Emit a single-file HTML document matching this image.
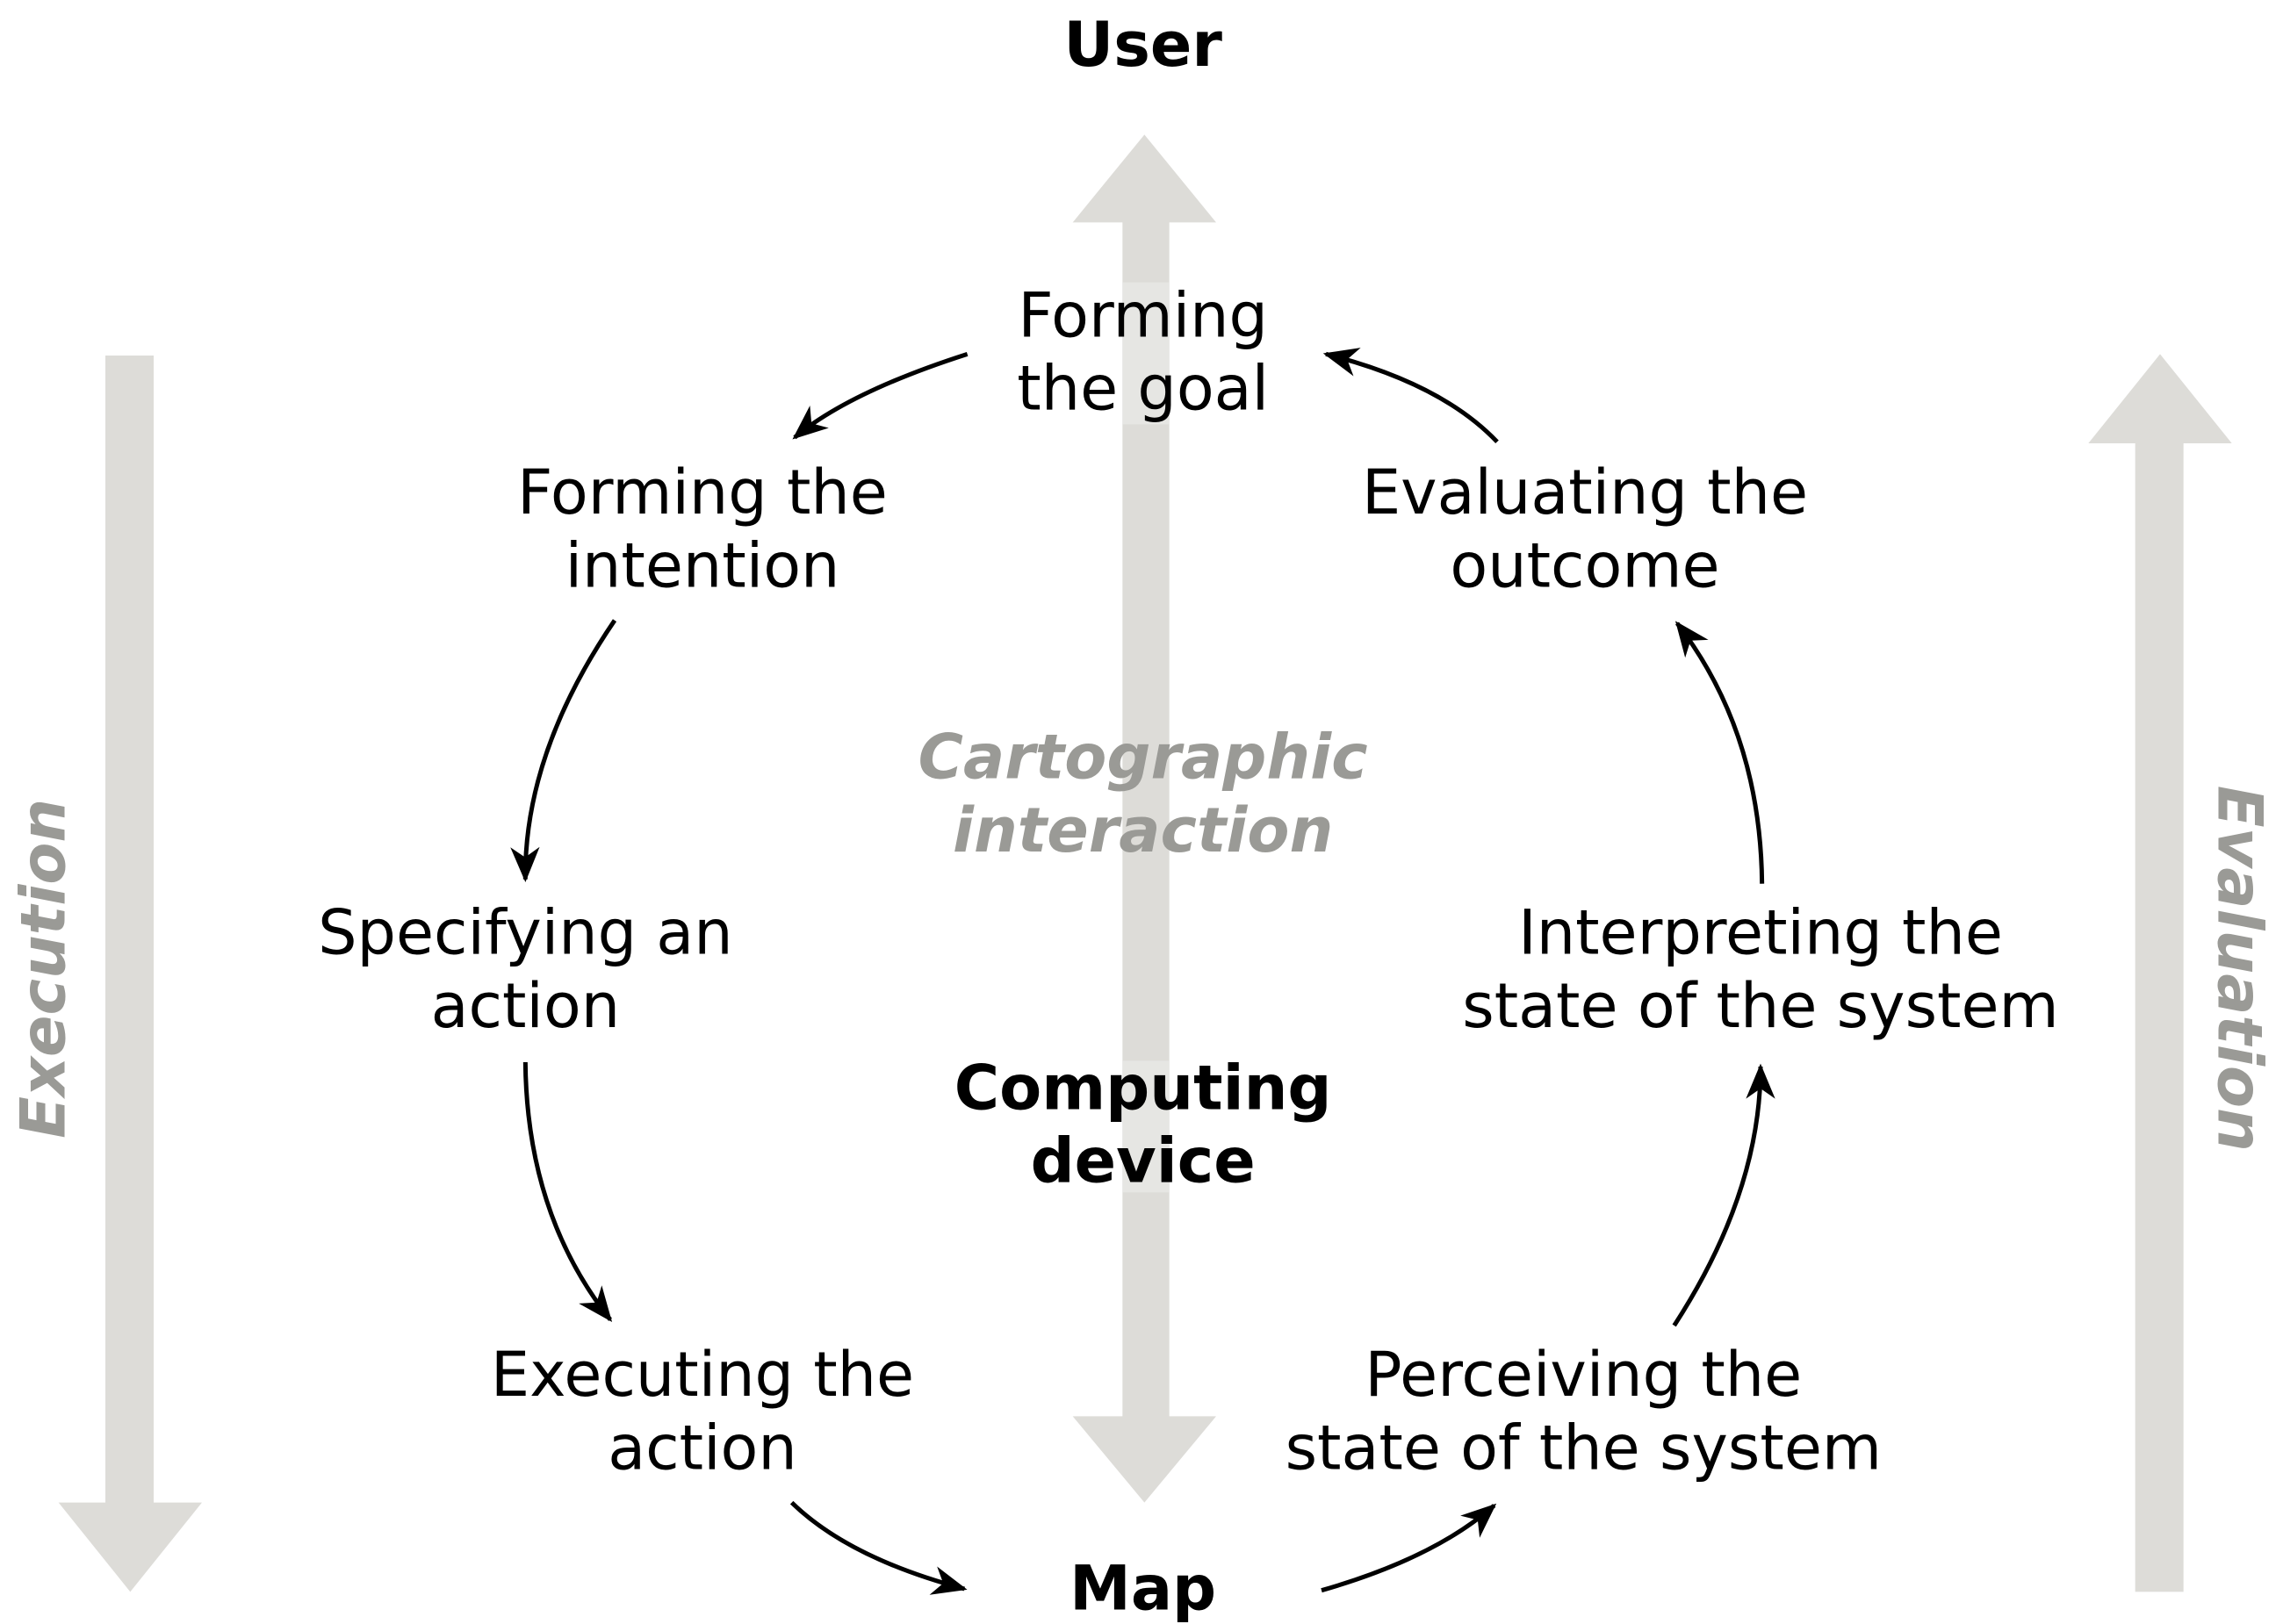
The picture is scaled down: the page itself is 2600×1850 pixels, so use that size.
<!DOCTYPE html>
<html><head><meta charset="utf-8"><style>
html,body{margin:0;padding:0;background:#fff;}
svg{display:block;}
text{font-family:"DejaVu Sans","Liberation Sans",sans-serif;font-size:42px;text-anchor:middle;fill:#000;}
.b{font-weight:bold;}
.g{font-weight:bold;font-style:italic;fill:#9a9a96;}
</style></head><body>
<svg width="2600" height="1850" viewBox="0 0 1560 1110" xmlns="http://www.w3.org/2000/svg">
<defs>
<marker id="ah" viewBox="-5 -5 30 30" refX="20" refY="10" markerWidth="30" markerHeight="30" markerUnits="userSpaceOnUse" orient="auto" overflow="visible">
<path d="M-2,0 L22,10 L-2,20 L5,10 Z" fill="#000"/>
</marker>
</defs>
<g fill="#dddcd8">
<rect x="767" y="151" width="32" height="818"/>
<polygon points="782,92 831,152 733,152"/>
<polygon points="733,968 831,968 782,1027"/>
<rect x="72" y="243" width="33" height="785"/>
<polygon points="40,1027 138,1027 89,1088"/>
<rect x="1459" y="302" width="33" height="786"/>
<polygon points="1476,242 1525,303 1427,303"/>
</g>
<rect x="767" y="193" width="32" height="97" fill="#e6e6e3"/>
<rect x="767" y="725" width="32" height="90" fill="#e6e6e3"/>
<g fill="none" stroke="#000" stroke-width="3" marker-end="url(#ah)">
<path d="M661,242 Q580,268 543,299"/>
<path d="M420,424 Q358,515 359,601"/>
<path d="M359,726 Q360,830 417,902"/>
<path d="M541,1027 Q580,1065 659,1086"/>
<path d="M903,1087 Q980,1065 1021,1029"/>
<path d="M1144,906 Q1203,815 1203,729"/>
<path d="M1204,604 Q1203,500 1146,426"/>
<path d="M1023,302 Q985,262 906,242"/>
</g>
<text class="b" x="781" y="45">User</text>
<text x="781" y="230">Forming</text>
<text x="781" y="280">the goal</text>
<text x="480" y="351">Forming the</text>
<text x="480" y="401">intention</text>
<text x="1083" y="351">Evaluating the</text>
<text x="1083" y="401">outcome</text>
<text class="g" x="781" y="532">Cartographic</text>
<text class="g" x="781" y="582">interaction</text>
<text x="359" y="652">Specifying an</text>
<text x="359" y="702">action</text>
<text x="1203" y="652">Interpreting the</text>
<text x="1203" y="702">state of the system</text>
<text class="b" x="781" y="758">Computing</text>
<text class="b" x="781" y="808">device</text>
<text x="480" y="954">Executing the</text>
<text x="480" y="1004">action</text>
<text x="1082" y="954">Perceiving the</text>
<text x="1082" y="1004">state of the system</text>
<text class="b" x="781" y="1100">Map</text>
<text class="g" transform="translate(44,662) rotate(-90)" x="0" y="0">Execution</text>
<text class="g" transform="translate(1516,662) rotate(90)" x="0" y="0">Evaluation</text>
</svg>
</body></html>
